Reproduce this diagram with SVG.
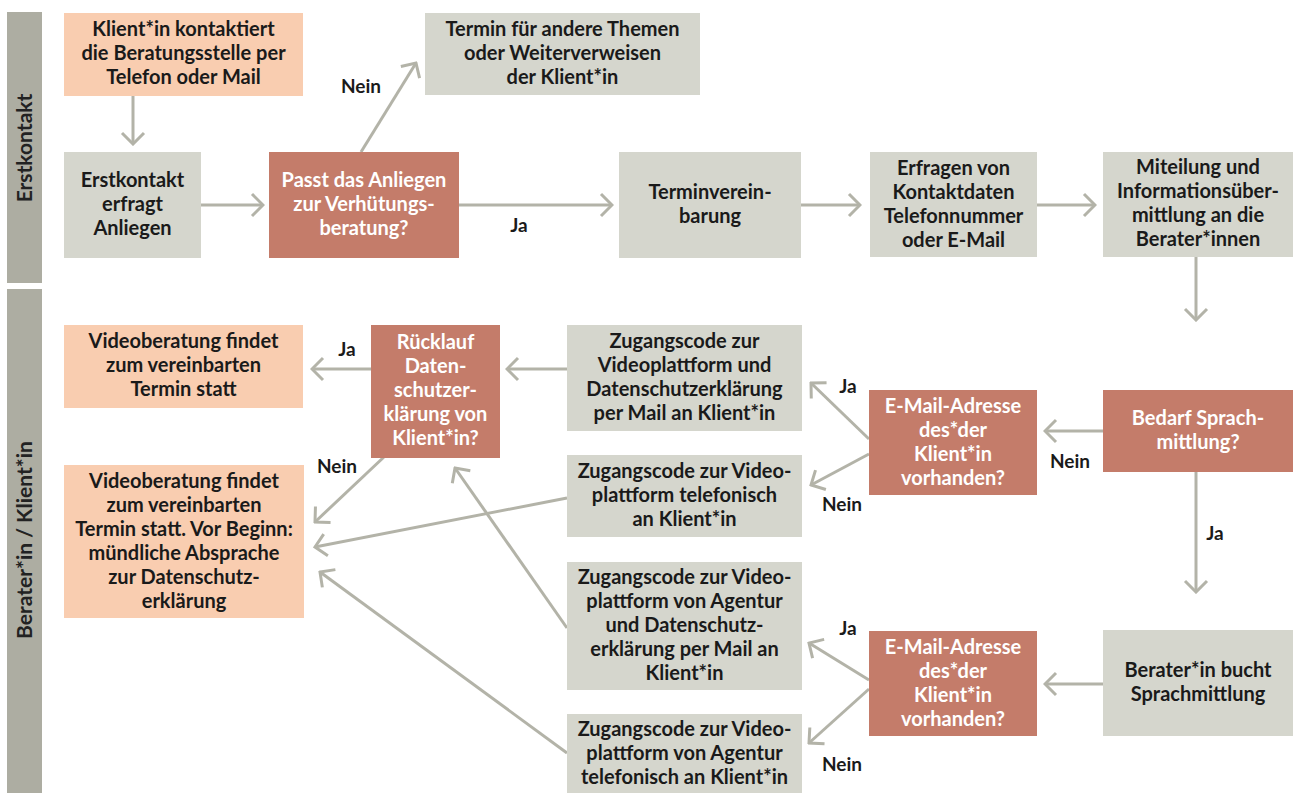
<svg xmlns="http://www.w3.org/2000/svg" width="1294" height="793" viewBox="0 0 1294 793">
<defs>
<style>
.t{font-family:Lato,"Open Sans","DejaVu Sans",sans-serif;font-weight:700;font-size:20px;text-anchor:middle;fill:#1a1a1a}
.w{fill:#ffffff}
.lbl{font-family:Lato,"Open Sans","DejaVu Sans",sans-serif;font-weight:700;font-size:19px;text-anchor:middle;fill:#1a1a1a}
.lane{font-family:Lato,"Open Sans","DejaVu Sans",sans-serif;font-weight:700;font-size:21px;text-anchor:middle;fill:#222222}
.peach{fill:#f9cdb0}
.grey{fill:#d5d6cd}
.dec{fill:#c47c6a}
.bar{fill:#adada2}
.c{stroke:#b3b3a8;stroke-width:3;fill:none;marker-end:url(#ah)}
</style>
<marker id="ah" markerUnits="userSpaceOnUse" viewBox="-14 -14 16 28" refX="0" refY="0" markerWidth="16" markerHeight="28" orient="auto">
<path d="M-11,-11 L0,0 L-11,11" fill="none" stroke="#b3b3a8" stroke-width="3"/>
</marker>
</defs>
<rect width="1294" height="793" fill="#ffffff"/>

<g id="lane1">
<rect class="bar" x="7" y="12" width="35" height="271"/>
<text class="lane" transform="translate(32,148) rotate(-90)">Erstkontakt</text>
</g>
<g id="lane2">
<rect class="bar" x="7" y="289" width="35" height="504"/>
<text class="lane" transform="translate(32,540) rotate(-90)">Berater*in / Klient*in</text>
</g>

<g id="connectors">
<line class="c" x1="133" y1="96" x2="133" y2="144"/>
<line class="c" x1="201" y1="205" x2="263" y2="205"/>
<line class="c" x1="361" y1="152" x2="416" y2="63"/>
<line class="c" x1="459" y1="205" x2="612" y2="205"/>
<line class="c" x1="801" y1="205" x2="860" y2="205"/>
<line class="c" x1="1037" y1="205" x2="1095" y2="205"/>
<line class="c" x1="1196" y1="257" x2="1196" y2="320"/>
<line class="c" x1="1103" y1="431" x2="1045" y2="431"/>
<line class="c" x1="1196" y1="472" x2="1196" y2="592"/>
<line class="c" x1="1103" y1="684" x2="1045" y2="684"/>
<line class="c" x1="869" y1="439" x2="811" y2="383"/>
<line class="c" x1="869" y1="454" x2="811" y2="485"/>
<line class="c" x1="869" y1="680" x2="809" y2="643"/>
<line class="c" x1="869" y1="689" x2="809" y2="743"/>
<line class="c" x1="567" y1="369" x2="507" y2="369"/>
<line class="c" x1="371" y1="369" x2="312" y2="369"/>
<line class="c" x1="385" y1="456" x2="315" y2="522"/>
<line class="c" x1="567" y1="498" x2="315" y2="547"/>
<line class="c" x1="567" y1="628" x2="455" y2="468"/>
<line class="c" x1="567" y1="753" x2="320" y2="572"/>
<text class="lbl" x="361" y="93">Nein</text>
<text class="lbl" x="519" y="232">Ja</text>
<text class="lbl" x="347" y="356">Ja</text>
<text class="lbl" x="337" y="473">Nein</text>
<text class="lbl" x="1070" y="468">Nein</text>
<text class="lbl" x="1215" y="540">Ja</text>
<text class="lbl" x="848" y="393">Ja</text>
<text class="lbl" x="842" y="511">Nein</text>
<text class="lbl" x="848" y="635">Ja</text>
<text class="lbl" x="842" y="771">Nein</text>
</g>

<g id="n_kontakt">
<rect class="peach" x="64" y="13" width="239" height="83"/>
<text class="t" x="183.5"><tspan x="183.5" y="36">Klient*in kontaktiert</tspan><tspan x="183.5" y="60">die Beratungsstelle per</tspan><tspan x="183.5" y="84">Telefon oder Mail</tspan></text>
</g>
<g id="n_erstkontakt">
<rect class="grey" x="64" y="152" width="137" height="106"/>
<text class="t"><tspan x="132.5" y="187">Erstkontakt</tspan><tspan x="132.5" y="211">erfragt</tspan><tspan x="132.5" y="235">Anliegen</tspan></text>
</g>
<g id="n_passt">
<rect class="dec" x="269" y="152" width="190" height="106"/>
<text class="t w"><tspan x="364" y="187">Passt das Anliegen</tspan><tspan x="364" y="211">zur Verhütungs-</tspan><tspan x="364" y="235">beratung?</tspan></text>
</g>
<g id="n_andere">
<rect class="grey" x="425" y="13" width="275" height="82"/>
<text class="t"><tspan x="562.5" y="36">Termin für andere Themen</tspan><tspan x="562.5" y="60">oder Weiterverweisen</tspan><tspan x="562.5" y="84">der Klient*in</tspan></text>
</g>
<g id="n_termin">
<rect class="grey" x="619" y="152" width="182" height="106"/>
<text class="t"><tspan x="710" y="199">Terminverein-</tspan><tspan x="710" y="223">barung</tspan></text>
</g>
<g id="n_erfragen">
<rect class="grey" x="870" y="152" width="167" height="105"/>
<text class="t"><tspan x="953.5" y="175">Erfragen von</tspan><tspan x="953.5" y="199">Kontaktdaten</tspan><tspan x="953.5" y="223">Telefonnummer</tspan><tspan x="953.5" y="247">oder E-Mail</tspan></text>
</g>
<g id="n_miteilung">
<rect class="grey" x="1103" y="152" width="190" height="105"/>
<text class="t"><tspan x="1198" y="174">Miteilung und</tspan><tspan x="1198" y="198">Informationsüber-</tspan><tspan x="1198" y="222">mittlung an die</tspan><tspan x="1198" y="246">Berater*innen</tspan></text>
</g>
<g id="n_bedarf">
<rect class="dec" x="1103" y="390" width="190" height="82"/>
<text class="t w"><tspan x="1198" y="425">Bedarf Sprach-</tspan><tspan x="1198" y="449">mittlung?</tspan></text>
</g>
<g id="n_bucht">
<rect class="grey" x="1103" y="630" width="190" height="106"/>
<text class="t"><tspan x="1198" y="677">Berater*in bucht</tspan><tspan x="1198" y="701">Sprachmittlung</tspan></text>
</g>
<g id="n_email1">
<rect class="dec" x="869" y="390" width="168" height="105"/>
<text class="t w"><tspan x="953" y="413">E-Mail-Adresse</tspan><tspan x="953" y="437">des*der</tspan><tspan x="953" y="461">Klient*in</tspan><tspan x="953" y="485">vorhanden?</tspan></text>
</g>
<g id="n_email2">
<rect class="dec" x="869" y="631" width="168" height="105"/>
<text class="t w"><tspan x="953" y="654">E-Mail-Adresse</tspan><tspan x="953" y="678">des*der</tspan><tspan x="953" y="702">Klient*in</tspan><tspan x="953" y="726">vorhanden?</tspan></text>
</g>
<g id="n_zugang1">
<rect class="grey" x="567" y="325" width="235" height="106"/>
<text class="t"><tspan x="684.5" y="348">Zugangscode zur</tspan><tspan x="684.5" y="372">Videoplattform und</tspan><tspan x="684.5" y="396">Datenschutzerklärung</tspan><tspan x="684.5" y="420">per Mail an Klient*in</tspan></text>
</g>
<g id="n_zugang2">
<rect class="grey" x="567" y="455" width="235" height="82"/>
<text class="t"><tspan x="684.5" y="478">Zugangscode zur Video-</tspan><tspan x="684.5" y="502">plattform telefonisch</tspan><tspan x="684.5" y="526">an Klient*in</tspan></text>
</g>
<g id="n_zugang3">
<rect class="grey" x="567" y="562" width="235" height="128"/>
<text class="t"><tspan x="684.5" y="584">Zugangscode zur Video-</tspan><tspan x="684.5" y="608">plattform von Agentur</tspan><tspan x="684.5" y="632">und Datenschutz-</tspan><tspan x="684.5" y="656">erklärung per Mail an</tspan><tspan x="684.5" y="680">Klient*in</tspan></text>
</g>
<g id="n_zugang4">
<rect class="grey" x="567" y="714" width="235" height="79"/>
<text class="t"><tspan x="684.5" y="736">Zugangscode zur Video-</tspan><tspan x="684.5" y="760">plattform von Agentur</tspan><tspan x="684.5" y="784">telefonisch an Klient*in</tspan></text>
</g>
<g id="n_ruecklauf">
<rect class="dec" x="371" y="325" width="129" height="133"/>
<text class="t w"><tspan x="435.5" y="349">Rücklauf</tspan><tspan x="435.5" y="373">Daten-</tspan><tspan x="435.5" y="397">schutzer-</tspan><tspan x="435.5" y="421">klärung von</tspan><tspan x="435.5" y="445">Klient*in?</tspan></text>
</g>
<g id="n_video1">
<rect class="peach" x="64" y="325" width="239" height="83"/>
<text class="t"><tspan x="183.5" y="348">Videoberatung findet</tspan><tspan x="183.5" y="372">zum vereinbarten</tspan><tspan x="183.5" y="396">Termin statt</tspan></text>
</g>
<g id="n_video2">
<rect class="peach" x="64" y="465" width="240" height="153"/>
<text class="t"><tspan x="184" y="488">Videoberatung findet</tspan><tspan x="184" y="512">zum vereinbarten</tspan><tspan x="184" y="536">Termin statt. Vor Beginn:</tspan><tspan x="184" y="560">mündliche Absprache</tspan><tspan x="184" y="584">zur Datenschutz-</tspan><tspan x="184" y="608">erklärung</tspan></text>
</g>
</svg>
